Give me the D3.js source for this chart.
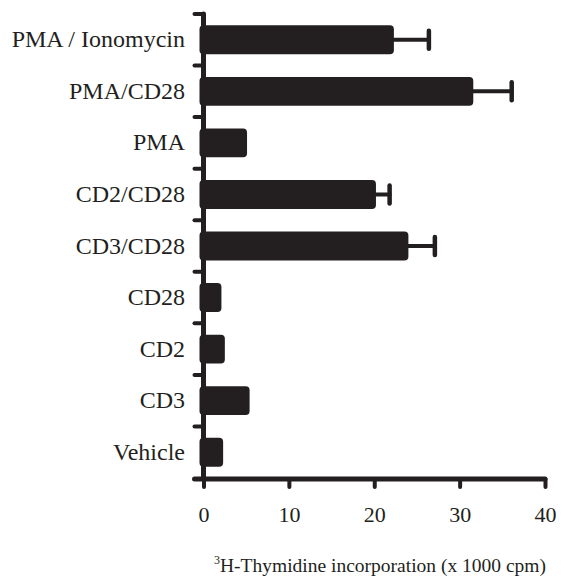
<!DOCTYPE html>
<html>
<meta charset="utf-8">
<head>
  <title>Thymidine incorporation</title>
</head>
<style>
body { margin: 0; background: #fff; }
text {
  font-family: "Liberation Serif", "Times New Roman", serif;
  fill: #231f20;
}
</style>
<body>
  <div id="chart"></div>
  <script src="https://d3js.org/d3.v7.min.js"></script>
  <script>

// categories from top to bottom
var categories = ['PMA / Ionomycin', 'PMA/CD28', 'PMA', 'CD2/CD28', 'CD3/CD28', 'CD28', 'CD2', 'CD3', 'Vehicle'];
var means = [22.3, 31.6, 5.1, 20.2, 24.0, 2.1, 2.5, 5.4, 2.3];
var errors = [4.1, 4.5, 0, 1.6, 3.1, 0, 0, 0, 0];
var xTicks = [0, 10, 20, 30, 40];

var ink = '#231f20';
var width = 564, height = 578;

var svg = d3.select('#chart')
  .append('svg')
  .attr('width', width)
  .attr('height', height);

var x = d3.scaleLinear()
  .domain([0, 40])
  .range([203.5, 545]);

var y = d3.scaleBand()
  .domain(categories)
  .range([14, 478])
  .paddingInner(0.44)
  .paddingOuter(0.22);

var data = categories.map(function(c, i) {
  return {name: c, value: means[i], err: errors[i]};
});

// bars
svg.append('g')
  .selectAll('rect')
  .data(data)
  .join('rect')
  .attr('x', x(0) - 4)
  .attr('y', function(d) { return y(d.name); })
  .attr('width', function(d) { return x(d.value) - x(0) + 4; })
  .attr('height', y.bandwidth())
  .attr('rx', 4)
  .attr('fill', ink);

// error bars
var eb = svg.append('g')
  .selectAll('g')
  .data(data.filter(function(d) { return d.err > 0; }))
  .join('g')
  .attr('stroke', ink)
  .attr('stroke-linecap', 'round');

eb.append('line')
  .attr('x1', function(d) { return x(d.value) - 2; })
  .attr('x2', function(d) { return x(d.value + d.err); })
  .attr('y1', function(d) { return y(d.name) + y.bandwidth() / 2; })
  .attr('y2', function(d) { return y(d.name) + y.bandwidth() / 2; })
  .attr('stroke-width', 4);

eb.append('line')
  .attr('x1', function(d) { return x(d.value + d.err); })
  .attr('x2', function(d) { return x(d.value + d.err); })
  .attr('y1', function(d) { return y(d.name) + y.bandwidth() / 2 - 9; })
  .attr('y2', function(d) { return y(d.name) + y.bandwidth() / 2 + 9; })
  .attr('stroke-width', 4.5);

// y axis with ticks between categories
var yAxis = svg.append('g');
yAxis.append('line')
  .attr('x1', x(0)).attr('x2', x(0))
  .attr('y1', 14).attr('y2', 479)
  .attr('stroke', ink)
  .attr('stroke-width', 5)
  .attr('stroke-linecap', 'round');

var boundaries = d3.range(categories.length).map(function(i) {
  return y(categories[i]) - y.step() * y.paddingInner() / 2;
});
yAxis.selectAll('line.tick')
  .data(boundaries)
  .join('line')
  .attr('class', 'tick')
  .attr('x1', x(0) - 9).attr('x2', x(0))
  .attr('y1', function(d) { return d; })
  .attr('y2', function(d) { return d; })
  .attr('stroke', ink)
  .attr('stroke-width', 4)
  .attr('stroke-linecap', 'round');

yAxis.selectAll('text')
  .data(categories)
  .join('text')
  .attr('x', 185)
  .attr('y', function(d) { return y(d) + y.bandwidth() / 2 + 7.5; })
  .attr('text-anchor', 'end')
  .style('font-size', '24px')
  .text(function(d) { return d; });

// x axis
var xAxis = svg.append('g')
  .attr('transform', 'translate(0,479)')
  .call(d3.axisBottom(x).tickValues(xTicks).tickSize(8).tickPadding(19));

xAxis.select('.domain')
  .attr('d', 'M' + (x(0) - 9) + ',0H' + x(40))
  .attr('stroke', ink)
  .attr('stroke-width', 5)
  .attr('stroke-linecap', 'round');
xAxis.selectAll('.tick line')
  .attr('stroke', ink)
  .attr('stroke-width', 4)
  .attr('stroke-linecap', 'round');
xAxis.selectAll('.tick text')
  .attr('fill', ink)
  .style('font-family', '"Liberation Serif", serif')
  .style('font-size', '22px');

// axis title
var title = svg.append('text')
  .attr('x', 546)
  .attr('y', 572)
  .attr('text-anchor', 'end')
  .style('font-size', '19.5px');
title.append('tspan')
  .attr('dy', '-8')
  .style('font-size', '12px')
  .text('3');
title.append('tspan')
  .attr('dy', '8')
  .text('H-Thymidine incorporation (x 1000 cpm)');

  </script>
</body>
</html>
